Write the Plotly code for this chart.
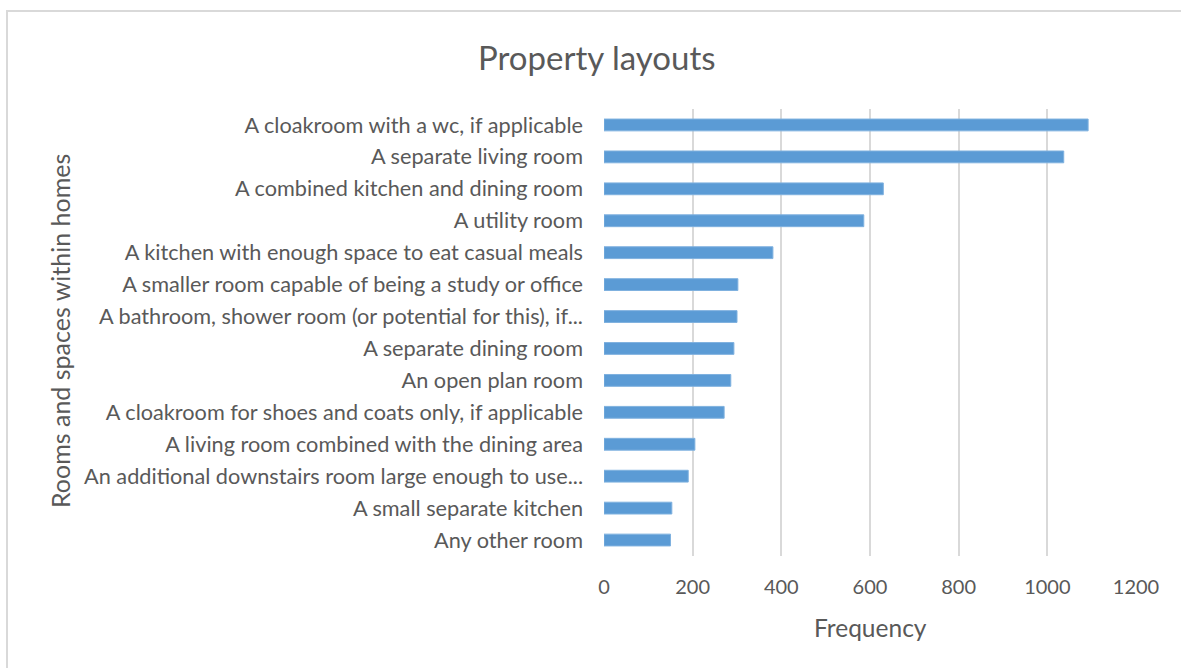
import plotly.graph_objects as go

# Rooms and spaces, listed top to bottom
rooms = [
    "A cloakroom with a wc, if applicable",
    "A separate living room",
    "A combined kitchen and dining room",
    "A utility room",
    "A kitchen with enough space to eat casual meals",
    "A smaller room capable of being a study or office",
    "A bathroom, shower room (or potential for this), if...",
    "A separate dining room",
    "An open plan room",
    "A cloakroom for shoes and coats only, if applicable",
    "A living room combined with the dining area",
    "An additional downstairs room large enough to use...",
    "A small separate kitchen",
    "Any other room",
]
frequency = [1092, 1037, 630, 586, 381, 302, 300, 293, 286, 271, 205, 190, 153, 150]
x_ticks = [0, 200, 400, 600, 800, 1000, 1200]

W, H = 1181, 668
L, R, T, B = 604, 45, 109, 112
pw, ph = W - L - R, H - T - B

def px(x):
    return (x - L) / pw

def py(y):
    return (H - B - y) / ph

FONT = "Lato"
GREY = "#595959"

fig = go.Figure(
    go.Bar(
        x=frequency,
        y=rooms,
        orientation="h",
        marker=dict(color="#5b9bd5", line=dict(color="#7fb1df", width=1)),
        width=0.37,
    )
)

fig.update_layout(
    width=W,
    height=H,
    margin=dict(l=L, r=R, t=T, b=B),
    paper_bgcolor="white",
    plot_bgcolor="white",
    showlegend=False,
    font=dict(family=FONT, color=GREY),
    xaxis=dict(
        range=[0, 1200],
        tickvals=x_ticks,
        ticktext=[str(v) for v in x_ticks],
        showgrid=True,
        gridcolor="#d9d9d9",
        gridwidth=2,
        zeroline=False,
        showline=False,
        ticks="",
        tickfont=dict(family=FONT, size=20, color=GREY),
        ticklabelstandoff=17,
    ),
    yaxis=dict(
        autorange="reversed",
        showgrid=False,
        zeroline=False,
        showline=False,
        ticks="",
        tickfont=dict(family=FONT, size=21.7, color=GREY),
        ticklabelstandoff=20,
    ),
    annotations=[
        dict(text="Property layouts", x=px(597), y=py(57), xref="paper", yref="paper",
             showarrow=False, xanchor="center", yanchor="middle",
             font=dict(family=FONT, size=33, color=GREY)),
        dict(text="Frequency", x=px(870), y=py(627), xref="paper", yref="paper",
             showarrow=False, xanchor="center", yanchor="middle",
             font=dict(family=FONT, size=24.5, color=GREY)),
        dict(text="Rooms and spaces within homes", x=px(60), y=py(331), xref="paper", yref="paper",
             showarrow=False, xanchor="center", yanchor="middle", textangle=-90,
             font=dict(family=FONT, size=25, color=GREY)),
    ],
    shapes=[
        dict(type="rect", xref="paper", yref="paper",
             x0=px(7), x1=px(1190), y0=py(680), y1=py(11),
             line=dict(color="#d9d9d9", width=2), fillcolor="rgba(0,0,0,0)", layer="below"),
    ],
)

fig.write_html("out.html")
